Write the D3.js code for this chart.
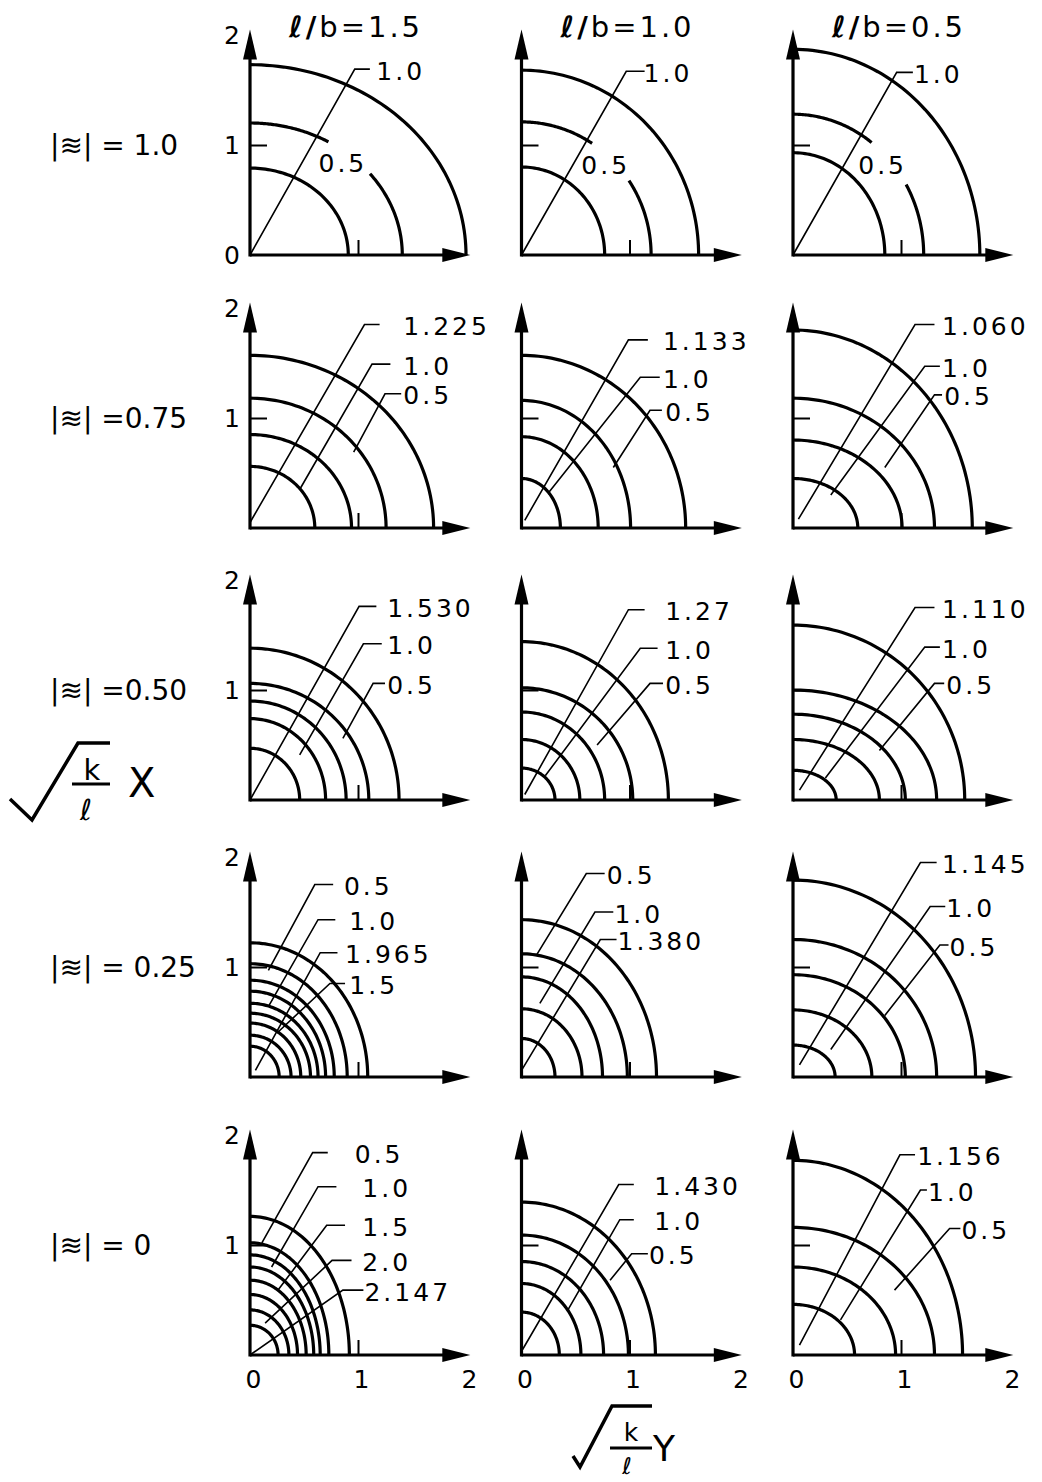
<!DOCTYPE html>
<html>
<head>
<meta charset="utf-8">
<script src="https://cdn.jsdelivr.net/npm/d3@7"></script>
<style>
  body { margin: 0; background: #fff; }
  text { font-family: "DejaVu Sans", sans-serif; fill: #000; }
</style>
</head>
<body>
<svg id="chart" width="1042" height="1482"></svg>
<script>
// ---- data -------------------------------------------------------------
const lbRatios = ["1.5", "1.0", "0.5"];                 // ℓ/b per column
const xiLevels = [" = 1.0", " =0.75", " =0.50", " = 0.25", " = 0"]; // |≋| per row
const yTickValues = [1, 2];
const xTickValues = [0, 1, 2];

// quarter ellipses per panel: [semi-axis along Y, semi-axis along X, (gap from°, gap to°)]
const arcsRow1 = [
  [[2.00, 1.73], [1.41, 1.20, 38, 59], [0.91, 0.79]],
  [[1.64, 1.68], [1.20, 1.21, 34, 57], [0.77, 0.80]],
  [[1.73, 1.87], [1.21, 1.28, 30, 53], [0.85, 0.93]]
];
const arcsRow2 = [
  [[1.70, 1.57], [1.26, 1.18], [0.94, 0.85], [0.60, 0.56]],
  [[1.52, 1.57], [1.01, 1.16], [0.71, 0.83], [0.36, 0.45]],
  [[1.66, 1.80], [1.31, 1.18], [1.01, 0.80], [0.60, 0.45]]
];
const arcsRow3 = [
  [[1.38, 1.38], [1.10, 1.06], [0.89, 0.90], [0.70, 0.74], [0.46, 0.47]],
  [[1.36, 1.44], [1.03, 1.02], [0.77, 0.80], [0.54, 0.55], [0.31, 0.29]],
  [[1.59, 1.59], [1.33, 1.00], [1.04, 0.78], [0.80, 0.55], [0.40, 0.27]]
];
const arcsRow4 = [
  [[1.09, 1.22], [0.90, 1.03], [0.78, 0.88], [0.70, 0.78], [0.63, 0.67],
   [0.56, 0.58], [0.47, 0.49], [0.38, 0.38], [0.27, 0.28]],
  [[1.25, 1.43], [0.98, 1.12], [0.75, 0.91], [0.56, 0.62], [0.31, 0.35]],
  [[1.69, 1.79], [1.33, 1.25], [1.04, 0.93], [0.73, 0.61], [0.39, 0.29]]
];
const arcsRow5 = [
  [[0.92, 1.26], [0.73, 1.02], [0.65, 0.91], [0.59, 0.80], [0.52, 0.68],
   [0.44, 0.55], [0.36, 0.41], [0.26, 0.27]],
  [[1.24, 1.39], [0.99, 1.09], [0.76, 0.85], [0.55, 0.65], [0.35, 0.39]],
  [[1.57, 1.77], [1.31, 1.16], [0.95, 0.80], [0.57, 0.46]]
];

// contour labels with leader lines: text, foot, elbow, end of run, text start
const leadersRow1 = [
  [{ t: "1.0", a: [0, 0], b: [0.97, 1.69], e: 1.11, lx: 1.17 }],
  [{ t: "1.0", a: [0, 0], b: [0.97, 1.67], e: 1.14, lx: 1.13 }],
  [{ t: "1.0", a: [0, 0], b: [0.96, 1.66], e: 1.11, lx: 1.12 }]
];
const leadersRow2 = [
  [{ t: "1.225", a: [0, 0.05], b: [1.06, 1.85], e: 1.20, lx: 1.42 },
   { t: "1.0", a: [0.46, 0.35], b: [1.13, 1.49], e: 1.30, lx: 1.42 },
   { t: "0.5", a: [0.96, 0.69], b: [1.25, 1.22], e: 1.40, lx: 1.42 }],
  [{ t: "1.133", a: [0.03, 0.07], b: [0.99, 1.71], e: 1.17, lx: 1.31 },
   { t: "1.0", a: [0.25, 0.32], b: [1.10, 1.37], e: 1.28, lx: 1.31 },
   { t: "0.5", a: [0.85, 0.55], b: [1.19, 1.07], e: 1.30, lx: 1.33 }],
  [{ t: "1.060", a: [0.05, 0.08], b: [1.13, 1.85], e: 1.31, lx: 1.38 },
   { t: "1.0", a: [0.35, 0.30], b: [1.22, 1.47], e: 1.36, lx: 1.38 },
   { t: "0.5", a: [0.85, 0.55], b: [1.31, 1.21], e: 1.38, lx: 1.40 }]
];
const leadersRow3 = [
  [{ t: "1.530", a: [0, 0], b: [1.01, 1.76], e: 1.17, lx: 1.27 },
   { t: "1.0", a: [0.46, 0.41], b: [1.05, 1.42], e: 1.22, lx: 1.27 },
   { t: "0.5", a: [0.86, 0.56], b: [1.14, 1.06], e: 1.25, lx: 1.27 }],
  [{ t: "1.27", a: [0.03, 0.05], b: [0.99, 1.73], e: 1.14, lx: 1.33 },
   { t: "1.0", a: [0.22, 0.22], b: [1.10, 1.38], e: 1.26, lx: 1.33 },
   { t: "0.5", a: [0.70, 0.50], b: [1.19, 1.06], e: 1.31, lx: 1.33 }],
  [{ t: "1.110", a: [0.06, 0.09], b: [1.13, 1.75], e: 1.31, lx: 1.38 },
   { t: "1.0", a: [0.30, 0.20], b: [1.22, 1.39], e: 1.36, lx: 1.38 },
   { t: "0.5", a: [0.80, 0.45], b: [1.31, 1.06], e: 1.40, lx: 1.42 }]
];
const leadersRow4 = [
  [{ t: "0.5", a: [0.17, 0.97], b: [0.60, 1.75], e: 0.77, lx: 0.87 },
   { t: "1.0", a: [0.17, 0.64], b: [0.63, 1.43], e: 0.79, lx: 0.92 },
   { t: "1.965", a: [0.05, 0.06], b: [0.65, 1.13], e: 0.81, lx: 0.88 },
   { t: "1.5", a: [0.25, 0.40], b: [0.74, 0.85], e: 0.88, lx: 0.92 }],
  [{ t: "0.5", a: [0.14, 1.11], b: [0.60, 1.85], e: 0.77, lx: 0.79 },
   { t: "1.0", a: [0.17, 0.67], b: [0.68, 1.50], e: 0.85, lx: 0.86 },
   { t: "1.380", a: [0, 0.06], b: [0.73, 1.25], e: 0.88, lx: 0.89 }],
  [{ t: "1.145", a: [0.06, 0.11], b: [1.18, 1.95], e: 1.33, lx: 1.38 },
   { t: "1.0", a: [0.35, 0.25], b: [1.27, 1.55], e: 1.41, lx: 1.42 },
   { t: "0.5", a: [0.85, 0.56], b: [1.36, 1.20], e: 1.44, lx: 1.45 }]
];
const leadersRow5 = [
  [{ t: "0.5", a: [0.11, 1.02], b: [0.58, 1.84], e: 0.72, lx: 0.97 },
   { t: "1.0", a: [0.20, 0.80], b: [0.63, 1.53], e: 0.80, lx: 1.04 },
   { t: "1.5", a: [0.26, 0.59], b: [0.71, 1.18], e: 0.88, lx: 1.04 },
   { t: "2.0", a: [0.14, 0.29], b: [0.76, 0.86], e: 0.94, lx: 1.04 },
   { t: "2.147", a: [0, 0], b: [0.86, 0.59], e: 1.05, lx: 1.06 }],
  [{ t: "1.430", a: [0.01, 0.05], b: [0.90, 1.55], e: 1.04, lx: 1.23 },
   { t: "1.0", a: [0.43, 0.41], b: [0.91, 1.23], e: 1.04, lx: 1.23 },
   { t: "0.5", a: [0.82, 0.68], b: [1.02, 0.92], e: 1.17, lx: 1.18 }],
  [{ t: "1.156", a: [0.06, 0.09], b: [0.99, 1.82], e: 1.13, lx: 1.15 },
   { t: "1.0", a: [0.44, 0.32], b: [1.18, 1.50], e: 1.24, lx: 1.25 },
   { t: "0.5", a: [0.94, 0.59], b: [1.45, 1.15], e: 1.55, lx: 1.56 }]
];

// free labels sitting in the break of a contour
const notesRow1 = [
  { t: "0.5", at: [0.86, 0.84] },
  { t: "0.5", at: [0.78, 0.82] },
  { t: "0.5", at: [0.83, 0.82] }
];

const arcsByRow = [arcsRow1, arcsRow2, arcsRow3, arcsRow4, arcsRow5];
const leadersByRow = [leadersRow1, leadersRow2, leadersRow3, leadersRow4, leadersRow5];
const notesByRow = [notesRow1, [], [], [], []];

// ---- layout -----------------------------------------------------------
const colOrigins = [250, 521.5, 793];
const rowOrigins = [255, 528, 800, 1077, 1355];
const unitX = 108, unitY = 110;
const axisLenX = 2.04, axisLenY = 2.05;

const svg = d3.select("#chart");

const arcLine = d3.line();

function arcPoints(x, y, rx, ry, t0, t1) {
  const pts = [];
  const n = 60;
  for (let i = 0; i <= n; i++) {
    const t = (t0 + (t1 - t0) * i / n) * Math.PI / 180;
    pts.push([x(rx * Math.cos(t)), y(ry * Math.sin(t))]);
  }
  return pts;
}

arcsByRow.forEach((rowArcs, r) => {
  rowArcs.forEach((arcs, c) => {
    const x0 = colOrigins[c], y0 = rowOrigins[r];
    const x = d3.scaleLinear().domain([0, 2]).range([x0, x0 + 2 * unitX]);
    const y = d3.scaleLinear().domain([0, 2]).range([y0, y0 - 2 * unitY]);
    const g = svg.append("g");

    // contour arcs
    arcs.forEach(a => {
      const [rx, ry, g0, g1] = a;
      const spans = g0 === undefined ? [[0, 90]] : [[0, g0], [g1, 90]];
      spans.forEach(([t0, t1]) => {
        g.append("path")
          .attr("d", arcLine(arcPoints(x, y, rx, ry, t0, t1)))
          .attr("fill", "none").attr("stroke", "#000")
          .attr("stroke-width", 3.2).attr("stroke-linecap", "butt");
      });
    });

    // axes with arrow heads
    const tipX = x(axisLenX), tipY = y(axisLenY);
    g.append("line").attr("x1", x(0)).attr("y1", y(0)).attr("x2", tipX - 20).attr("y2", y(0))
      .attr("stroke", "#000").attr("stroke-width", 3.2);
    g.append("line").attr("x1", x(0)).attr("y1", y(0) + 1.5).attr("x2", x(0)).attr("y2", tipY + 20)
      .attr("stroke", "#000").attr("stroke-width", 3.2);
    g.append("path")
      .attr("d", `M${tipX},${y(0)}L${tipX - 28},${y(0) - 7}L${tipX - 28},${y(0) + 7}Z`)
      .attr("fill", "#000");
    g.append("path")
      .attr("d", `M${x(0)},${tipY}L${x(0) - 7},${tipY + 30}L${x(0) + 7},${tipY + 30}Z`)
      .attr("fill", "#000");

    // inner tick marks at 1
    const xt = g.append("g").attr("transform", `translate(0,${y0})`)
      .call(d3.axisTop(x).tickValues([1]).tickSize(15).tickFormat(""));
    const yt = g.append("g").attr("transform", `translate(${x0},0)`)
      .call(d3.axisRight(y).tickValues([1]).tickSize(17).tickFormat(""));
    [xt, yt].forEach(s => {
      s.select(".domain").remove();
      s.selectAll("line").attr("stroke", "#000").attr("stroke-width", 2);
    });

    // tick labels: left column and bottom row only
    if (c === 0) {
      const vals = r === 0 ? [0].concat(yTickValues) : yTickValues;
      const ya = g.append("g").attr("transform", `translate(${x0 - 4},0)`)
        .call(d3.axisLeft(y).tickValues(vals).tickSize(0).tickPadding(6).tickFormat(d3.format("d")));
      ya.select(".domain").remove();
      ya.selectAll("text").attr("font-size", 25).attr("font-family", "DejaVu Sans")
        .attr("dy", "0.35em");
    }
    if (r === 4) {
      const xa = g.append("g").attr("transform", `translate(3,${y0 + 12})`)
        .call(d3.axisBottom(x).tickValues(xTickValues).tickSize(0).tickPadding(0).tickFormat(d3.format("d")));
      xa.select(".domain").remove();
      xa.selectAll("text").attr("font-size", 25).attr("font-family", "DejaVu Sans")
        .attr("dy", "0.85em");
    }

    // leader lines and their values
    leadersByRow[r][c].forEach(L => {
      g.append("path")
        .attr("d", d3.line()([[x(L.a[0]), y(L.a[1])], [x(L.b[0]), y(L.b[1])], [x(L.e), y(L.b[1])]]))
        .attr("fill", "none").attr("stroke", "#000").attr("stroke-width", 1.6);
      g.append("text")
        .attr("x", x(L.lx)).attr("y", y(L.b[1]) + 2)
        .attr("dominant-baseline", "central")
        .attr("font-size", 25).attr("letter-spacing", 3)
        .text(L.t);
    });
    const note = notesByRow[r][c];
    if (note) {
      g.append("text")
        .attr("x", x(note.at[0])).attr("y", y(note.at[1]) + 1)
        .attr("text-anchor", "middle").attr("dominant-baseline", "central")
        .attr("font-size", 25).attr("letter-spacing", 3)
        .text(note.t);
    }
  });
});

// column headers ℓ/b
lbRatios.forEach((v, c) => {
  const t = svg.append("text")
    .attr("x", colOrigins[c] + 106).attr("y", 27)
    .attr("text-anchor", "middle").attr("dominant-baseline", "central")
    .attr("font-size", 29).attr("letter-spacing", 3);
  t.append("tspan").attr("font-style", "italic").attr("font-weight", "bold").text("ℓ");
  t.append("tspan").attr("font-weight", "bold").text("/");
  t.append("tspan").text("b=" + v);
});

// row labels |≋|
xiLevels.forEach((v, r) => {
  svg.append("text")
    .attr("x", 50).attr("y", rowOrigins[r] - unitY)
    .attr("dominant-baseline", "central")
    .attr("font-size", 28)
    .text("|≋|" + v);
});

// axis titles: √(k/ℓ) X and √(k/ℓ) Y
function radical(pts) {
  svg.append("path").attr("d", d3.line()(pts))
    .attr("fill", "none").attr("stroke", "#000").attr("stroke-width", 3.5)
    .attr("stroke-linejoin", "miter");
}
radical([[10, 799], [32, 820], [78, 743], [110, 743]]);
svg.append("text").attr("x", 92).attr("y", 780).attr("text-anchor", "middle").attr("font-size", 29).text("k");
svg.append("line").attr("x1", 72).attr("x2", 110).attr("y1", 784).attr("y2", 784)
  .attr("stroke", "#000").attr("stroke-width", 3);
svg.append("text").attr("x", 86).attr("y", 820).attr("text-anchor", "middle").attr("font-size", 29)
  .attr("font-style", "italic").text("ℓ");
svg.append("text").attr("x", 128).attr("y", 797).attr("font-size", 40).text("X");

radical([[573, 1456], [580, 1467], [612, 1406], [652, 1406]]);
svg.append("text").attr("x", 631).attr("y", 1441).attr("text-anchor", "middle").attr("font-size", 25).text("k");
svg.append("line").attr("x1", 610).attr("x2", 652).attr("y1", 1448).attr("y2", 1448)
  .attr("stroke", "#000").attr("stroke-width", 3);
svg.append("text").attr("x", 627).attr("y", 1474).attr("text-anchor", "middle").attr("font-size", 23)
  .attr("font-style", "italic").text("ℓ");
svg.append("text").attr("x", 653).attr("y", 1461).attr("font-size", 36).text("Y");
</script>
</body>
</html>
